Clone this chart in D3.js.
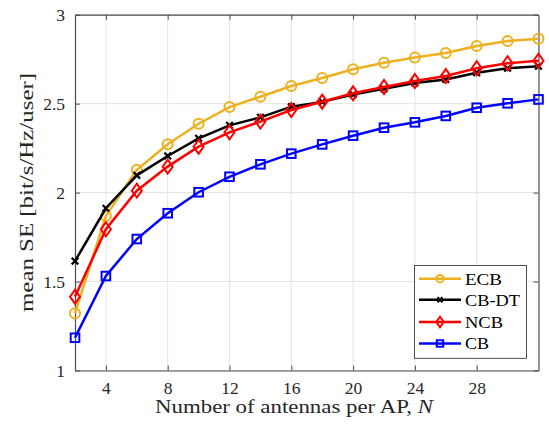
<!DOCTYPE html>
<html><head><meta charset="utf-8">
<script src="https://cdn.jsdelivr.net/npm/d3@7"></script>
<style>body{margin:0;background:#fff}</style>
</head><body><svg id="c" width="549" height="430"></svg>
<script>
const antennas = [2,4,6,8,10,12,14,16,18,20,22,24,26,28,30,32];
const ecb   = [1.322,1.868,2.128,2.272,2.387,2.481,2.539,2.599,2.644,2.693,2.730,2.760,2.785,2.824,2.852,2.865];
const cbdt  = [1.615,1.912,2.097,2.206,2.305,2.378,2.423,2.483,2.510,2.551,2.584,2.616,2.636,2.674,2.699,2.710];
const ncb   = [1.415,1.794,2.011,2.146,2.258,2.339,2.399,2.464,2.511,2.558,2.594,2.627,2.655,2.699,2.727,2.741];
const cb    = [1.184,1.531,1.739,1.884,2.002,2.089,2.159,2.219,2.271,2.320,2.365,2.395,2.431,2.477,2.502,2.524];
const seriesNames = ["ECB","CB-DT","NCB","CB"];
const xTicks = [4,8,12,16,20,24,28];
const yTicks = [1,1.5,2,2.5,3];

const series = [
  {name:"ECB", vals:ecb, color:"#EDB120", marker:"circle"},
  {name:"CB-DT", vals:cbdt, color:"#000000", marker:"x"},
  {name:"NCB", vals:ncb, color:"#FF0000", marker:"diamond"},
  {name:"CB", vals:cb, color:"#0000FF", marker:"square"}
];

const L=75, R=538.5, T=14.7, B=370.5;
const svg = d3.select("#c");
const x = d3.scaleLinear().domain([2,32]).range([L,R]);
const y = d3.scaleLinear().domain([1,3]).range([B,T]);
const font = "'Liberation Serif','Times New Roman',serif";
const axisCol = "#4d4d4d";

// grid
svg.append("g").selectAll("line").data(xTicks).join("line")
  .attr("x1",d=>x(d)).attr("x2",d=>x(d)).attr("y1",T).attr("y2",B)
  .attr("stroke","#e3e3e3").attr("stroke-width",1);
svg.append("g").selectAll("line").data(yTicks).join("line")
  .attr("x1",L).attr("x2",R).attr("y1",d=>y(d)).attr("y2",d=>y(d))
  .attr("stroke","#e3e3e3").attr("stroke-width",1);

// axes
const xb = svg.append("g").attr("transform",`translate(0,${B})`)
  .call(d3.axisBottom(x).tickValues(xTicks).tickSizeInner(-5).tickSizeOuter(0).tickPadding(11));
const xt = svg.append("g").attr("transform",`translate(0,${T})`)
  .call(d3.axisTop(x).tickValues(xTicks).tickSizeInner(-5).tickSizeOuter(0).tickFormat(""));
const yl = svg.append("g").attr("transform",`translate(${L},0)`)
  .call(d3.axisLeft(y).tickValues(yTicks).tickFormat(d3.format("")).tickSizeInner(-5).tickSizeOuter(0).tickPadding(10));
const yr = svg.append("g").attr("transform",`translate(${R},0)`)
  .call(d3.axisRight(y).tickValues(yTicks).tickSizeInner(-5).tickSizeOuter(0).tickFormat(""));
[xb,xt,yl,yr].forEach(g=>{
  g.select(".domain").attr("stroke",axisCol).attr("stroke-width",1.2);
  g.selectAll(".tick line").attr("stroke",axisCol).attr("stroke-width",1);
  g.selectAll("text").attr("font-family",font).attr("font-size",17.5).attr("fill","#262626");
});

// lines
const line = d3.line().x((d,i)=>x(antennas[i])).y(d=>y(d));
function drawMarker(g, type, cx, cy, color, s){
  if(type==="circle"){
    g.append("circle").attr("cx",cx).attr("cy",cy).attr("r",5*s).attr("fill","none").attr("stroke",color).attr("stroke-width",2);
  } else if(type==="diamond"){
    const h=7*s,w=5*s;
    g.append("path").attr("d",`M${cx},${cy-h}L${cx+w},${cy}L${cx},${cy+h}L${cx-w},${cy}Z`).attr("fill","none").attr("stroke",color).attr("stroke-width",2);
  } else if(type==="square"){
    const a=4.3*s;
    g.append("rect").attr("x",cx-a).attr("y",cy-a).attr("width",2*a).attr("height",2*a).attr("fill","none").attr("stroke",color).attr("stroke-width",2);
  } else {
    const a=3.3*s;
    g.append("path").attr("d",`M${cx-a},${cy-a}L${cx+a},${cy+a}M${cx-a},${cy+a}L${cx+a},${cy-a}`).attr("stroke",color).attr("stroke-width",2.2);
  }
}
series.forEach(s=>{
  const g = svg.append("g");
  g.append("path").datum(s.vals).attr("d",line).attr("fill","none").attr("stroke",s.color).attr("stroke-width",2.5);
  s.vals.forEach((v,i)=>drawMarker(g,s.marker,x(antennas[i]),y(v),s.color,1));
});

// legend
const lg = svg.append("g");
lg.append("rect").attr("x",414.5).attr("y",265.5).attr("width",112).attr("height",92.8)
  .attr("fill","#fff").attr("stroke","#262626").attr("stroke-width",0.8);
const ly = [278.7,299.8,322,343.5];
const lw = [37,55,38,24];
series.forEach((s,i)=>{
  lg.append("line").attr("x1",419).attr("x2",461).attr("y1",ly[i]).attr("y2",ly[i]).attr("stroke",s.color).attr("stroke-width",2.5);
  drawMarker(lg,s.marker,440,ly[i],s.color,0.75);
  lg.append("text").attr("x",465).attr("y",ly[i]).attr("dy","0.35em").text(seriesNames[i])
    .attr("textLength",lw[i]).attr("lengthAdjust","spacingAndGlyphs")
    .attr("font-family",font).attr("font-size",17).attr("fill","#000");
});

// labels
const xl = svg.append("text").attr("x",294).attr("y",413).attr("text-anchor","middle")
  .attr("textLength",278).attr("lengthAdjust","spacingAndGlyphs")
  .attr("font-family",font).attr("font-size",18.5).attr("fill","#262626");
xl.append("tspan").text("Number of antennas per AP, ");
xl.append("tspan").attr("font-style","italic").text("N");
svg.append("text").attr("transform",`translate(33,192.5) rotate(-90)`).attr("text-anchor","middle")
  .attr("textLength",239).attr("lengthAdjust","spacingAndGlyphs")
  .attr("font-family",font).attr("font-size",18.5).attr("fill","#262626").text("mean SE [bit/s/Hz/user]");
</script></body></html>
